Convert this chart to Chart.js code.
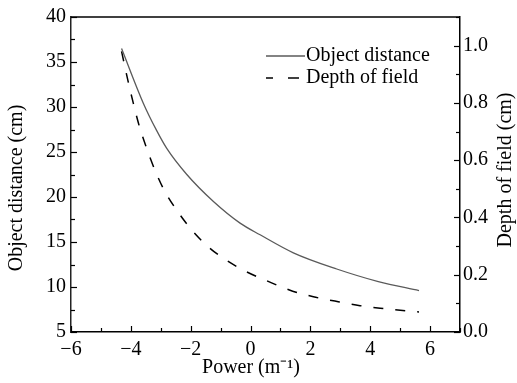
<!DOCTYPE html>
<html>
<head>
<meta charset="utf-8">
<script src="https://cdn.jsdelivr.net/npm/chart.js@4/dist/chart.umd.min.js"></script>
<style>
  html, body { margin: 0; padding: 0; background: #fff; }
  #wrap { width: 517px; height: 383px; position: relative; }
</style>
</head>
<body>
<div id="wrap"><canvas id="c" width="517" height="383"></canvas></div>
<script>
// ---- Data ----
const powerObject = [-4.31, -3.58, -3.14, -2.80, -2.13, -1.24, -0.35, 0.32, 1.43, 2.88, 4.27, 5.63];
const objectDistance = [36.5, 30.4, 27.4, 25.4, 22.5, 19.5, 17.1, 15.8, 13.8, 12.0, 10.6, 9.6];

const powerDepth = [-4.31, -4.08, -3.92, -3.72, -3.45, -3.19, -2.86, -2.43, -1.97, -1.41, -0.80, -0.13, 0.54, 1.32, 2.10, 2.82, 3.66, 4.33, 5.27, 5.63];
const depthOfField = [0.98, 0.87, 0.80, 0.72, 0.635, 0.564, 0.49, 0.42, 0.357, 0.297, 0.25, 0.21, 0.179, 0.146, 0.123, 0.108, 0.092, 0.083, 0.073, 0.07];

const xTickLabels = [-6, -4, -2, 0, 2, 4, 6];
const leftTickLabels = [5, 10, 15, 20, 25, 30, 35, 40];
const rightTickLabels = [0.0, 0.2, 0.4, 0.6, 0.8, 1.0];

const seriesNames = ['Object distance', 'Depth of field'];
const axisTitles = { x: 'Power (m\u207B\u00B9)', left: 'Object distance (cm)', right: 'Depth of field (cm)' };

const FONT = 'Liberation Serif';
const fmtNum = v => (v < 0 ? '\u2212' + Math.abs(v) : String(v));

const ticksPlugin = {
  id: 'inwardTicks',
  afterDraw(chart) {
    const ctx = chart.ctx;
    const a = chart.chartArea;
    const sx = chart.scales.x, sl = chart.scales.y, sr = chart.scales.y2;
    ctx.save();
    ctx.strokeStyle = '#000';
    ctx.lineWidth = 1.3;
    // top border
    ctx.beginPath();
    ctx.moveTo(a.left, a.top); ctx.lineTo(a.right, a.top);
    ctx.stroke();
    ctx.lineWidth = 1.2;
    // x ticks
    for (let v = -6; v <= 7; v += 1) {
      const px = Math.round(sx.getPixelForValue(v)) + 0.5;
      const len = (v % 2 === 0) ? 6 : 4;
      ctx.beginPath(); ctx.moveTo(px, a.bottom); ctx.lineTo(px, a.bottom - len); ctx.stroke();
    }
    // left ticks
    for (let v = 5; v <= 40; v += 2.5) {
      const py = Math.round(sl.getPixelForValue(v)) + 0.5;
      const len = (v % 5 === 0) ? 6 : 4;
      ctx.beginPath(); ctx.moveTo(a.left, py); ctx.lineTo(a.left + len, py); ctx.stroke();
    }
    // right ticks
    for (let i = 0; i <= 11; i++) {
      const v = i / 10;
      const py = Math.round(sr.getPixelForValue(v)) + 0.5;
      const len = (i % 2 === 0) ? 6 : 4;
      ctx.beginPath(); ctx.moveTo(a.right, py); ctx.lineTo(a.right - len, py); ctx.stroke();
    }
    // axis titles
    ctx.fillStyle = '#000';
    ctx.font = '20px "' + FONT + '"';
    ctx.textAlign = 'center';
    ctx.textBaseline = 'middle';
    ctx.fillText(axisTitles.x, 251, 368);
    ctx.save(); ctx.translate(17, 188); ctx.rotate(-Math.PI / 2); ctx.fillText(axisTitles.left, 0, 0); ctx.restore();
    ctx.save(); ctx.translate(506, 170); ctx.rotate(-Math.PI / 2); ctx.fillText(axisTitles.right, 0, 0); ctx.restore();
    // legend
    const ds = chart.data.datasets;
    ctx.font = '20px "' + FONT + '"';
    ctx.textAlign = 'left';
    const items = [{ y: 56, d: ds[0], dash: [] }, { y: 78, d: ds[1], dash: [7, 15, 11, 20] }];
    items.forEach(it => {
      ctx.strokeStyle = it.d.borderColor;
      ctx.lineWidth = it.d.borderWidth;
      ctx.setLineDash(it.dash);
      ctx.beginPath(); ctx.moveTo(266, it.y); ctx.lineTo(305, it.y); ctx.stroke();
      ctx.setLineDash([]);
      ctx.fillStyle = '#000';
      ctx.fillText(it.d.label, 306, it.y);
    });
    ctx.restore();
  }
};

new Chart(document.getElementById('c'), {
  type: 'line',
  data: {
    datasets: [
      {
        label: seriesNames[0],
        data: powerObject.map((p, i) => ({ x: p, y: objectDistance[i] })),
        yAxisID: 'y',
        borderColor: '#5a5a5a',
        borderWidth: 1.3,
        pointRadius: 0,
        fill: false,
        cubicInterpolationMode: 'monotone'
      },
      {
        label: seriesNames[1],
        data: powerDepth.map((p, i) => ({ x: p, y: depthOfField[i] })),
        yAxisID: 'y2',
        borderColor: '#000',
        borderWidth: 1.5,
        borderDash: [10, 12],
        pointRadius: 0,
        fill: false,
        cubicInterpolationMode: 'monotone'
      }
    ]
  },
  options: {
    responsive: false,
    animation: false,
    devicePixelRatio: 1,
    layout: { padding: { top: 15, left: 0, right: 0, bottom: 0 } },
    plugins: { legend: { display: false }, tooltip: { enabled: false } },
    scales: {
      x: {
        type: 'linear', min: -6, max: 7,
        afterBuildTicks: s => { s.ticks = xTickLabels.map(v => ({ value: v })); },
        afterFit: s => { s.height = 51; },
        grid: { display: false, drawTicks: false },
        border: { display: true, color: '#000', width: 1.5 },
        ticks: { color: '#000', font: { family: FONT, size: 20 }, padding: 6, maxRotation: 0, autoSkip: false,
                 callback: v => fmtNum(v) }
      },
      y: {
        type: 'linear', position: 'left', min: 5, max: 40,
        afterBuildTicks: s => { s.ticks = leftTickLabels.map(v => ({ value: v })); },
        afterFit: s => { s.width = 71; },
        grid: { display: false, drawTicks: false },
        border: { display: true, color: '#222', width: 1.5 },
        ticks: { color: '#000', font: { family: FONT, size: 20 }, padding: 5, autoSkip: false,
                 callback: v => String(v) }
      },
      y2: {
        type: 'linear', position: 'right', min: 0, max: 1.1,
        afterBuildTicks: s => { s.ticks = rightTickLabels.map(v => ({ value: v })); },
        afterFit: s => { s.width = 57; },
        grid: { display: false, drawTicks: false },
        border: { display: true, color: '#000', width: 1.5 },
        ticks: { color: '#000', font: { family: FONT, size: 20 }, padding: 3, autoSkip: false,
                 callback: v => Number(v).toFixed(1) }
      }
    }
  },
  plugins: [ticksPlugin]
});
</script>
</body>
</html>
